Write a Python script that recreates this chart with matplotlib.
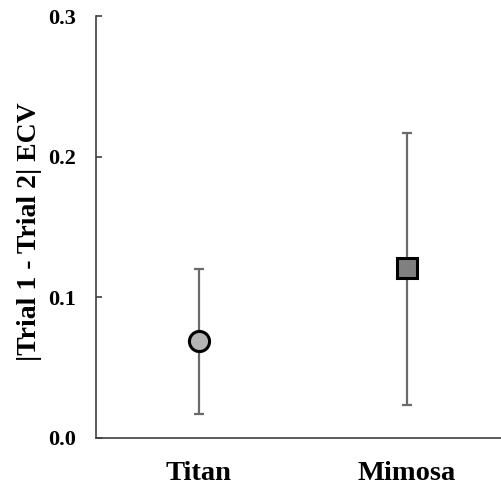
import numpy as np
import matplotlib
matplotlib.use('Agg')
import matplotlib.pyplot as plt

# 两个品种的均值及误差范围
cultivars = ['Titan', 'Mimosa']
means = [0.069, 0.121]
lower = [0.017, 0.023]
upper = [0.120, 0.217]
markers = ['o', 's']
fills = ['#b4b4b4', '#808080']

plt.rcParams['font.family'] = ['Liberation Serif', 'DejaVu Serif']
plt.rcParams['font.weight'] = 'bold'

fig = plt.figure(figsize=(5.02, 4.87), dpi=100)
ax = fig.add_axes([0.191, 0.1016, 0.809, 0.865])

x = np.arange(1, len(cultivars) + 1)
for i in range(len(cultivars)):
    err = [[means[i] - lower[i]], [upper[i] - means[i]]]
    ax.errorbar(x[i], means[i], yerr=err, fmt='none', ecolor='#6a6a6a',
                elinewidth=1.6, capsize=3.3, capthick=1.6, zorder=2)
    ax.plot(x[i], means[i], marker=markers[i], markersize=14.5,
            markerfacecolor=fills[i], markeredgecolor='black',
            markeredgewidth=2.2, linestyle='none', zorder=3)

ax.set_xlim(0.505, 2.457)
ax.set_ylim(0, 0.3)
ax.set_yticks([0.0, 0.1, 0.2, 0.3])
ax.set_yticklabels(['0.0', '0.1', '0.2', '0.3'])
ax.set_xticks(x)
ax.set_xticklabels(cultivars, fontsize=20.5, fontweight='bold')

for s in ['top', 'right']:
    ax.spines[s].set_visible(False)
for s in ['left', 'bottom']:
    ax.spines[s].set_color('#404040')
    ax.spines[s].set_linewidth(1.2)

ax.tick_params(axis='y', direction='in', length=4, width=1.2, color='#404040',
               labelsize=16, pad=14)
ax.tick_params(axis='x', length=0, pad=17)

ax.set_ylabel('|Trial 1 - Trial 2| ECV', fontsize=20, fontweight='bold')
ax.yaxis.set_label_coords(-0.133, 0.488)

fig.savefig('out.png', dpi=100)
